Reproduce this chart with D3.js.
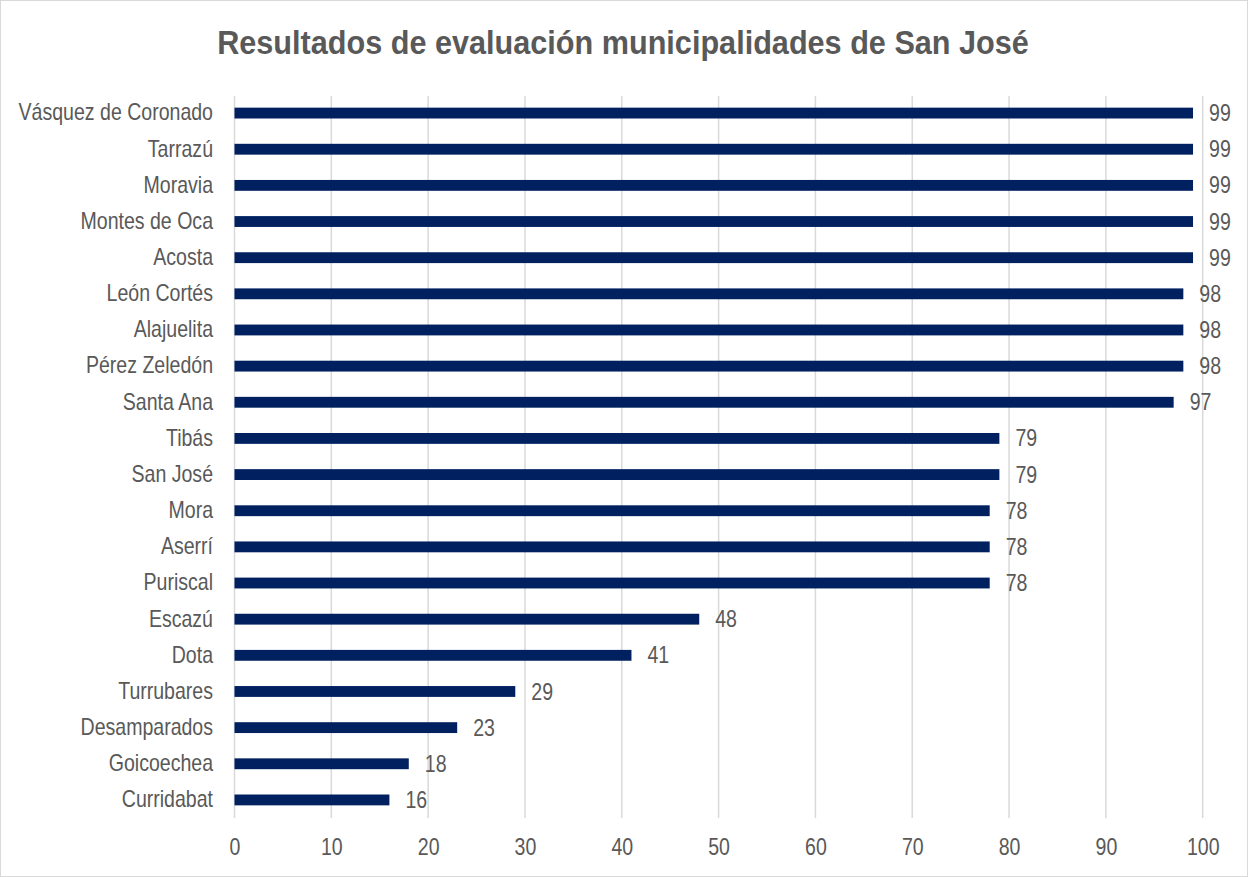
<!DOCTYPE html>
<html>
<head>
<meta charset="utf-8">
<script src="https://cdn.jsdelivr.net/npm/d3@7"></script>
<style>
  body { margin: 0; background: #fff; }
  svg { display: block; }
  .lbl { font-family: "Liberation Sans", Arial, sans-serif; fill: #595959; }
</style>
</head>
<body>
<script>
// municipalidades, de arriba hacia abajo
const municipios = ['Vásquez de Coronado', 'Tarrazú', 'Moravia', 'Montes de Oca', 'Acosta',
    'León Cortés', 'Alajuelita', 'Pérez Zeledón', 'Santa Ana', 'Tibás', 'San José', 'Mora',
    'Aserrí', 'Puriscal', 'Escazú', 'Dota', 'Turrubares', 'Desamparados', 'Goicoechea', 'Curridabat']
const puntajes = [99, 99, 99, 99, 99, 98, 98, 98, 97, 79, 79, 78, 78, 78, 48, 41, 29, 23, 18, 16]
const ticks = [0, 10, 20, 30, 40, 50, 60, 70, 80, 90, 100]

const width = 1248, height = 877
var margin = {top: 95, right: 45, bottom: 59, left: 234.5}
// no narrow font installed, so squeeze the text sideways
const narrow = 'scale(0.85,1)'

var svg = d3.select('body').append('svg')
    .attr('width', width)
    .attr('height', height)

svg.append('rect')
    .attr('x', 0.5).attr('y', 0.5)
    .attr('width', width - 1).attr('height', height - 1)
    .attr('fill', '#fff')
    .attr('stroke', '#d9d9d9')

svg.append('text')
    .attr('class', 'lbl')
    .attr('transform', 'translate(623,54) scale(0.928,1)')
    .attr('text-anchor', 'middle')
    .style('font-weight', 'bold')
    .style('font-size', '33px')
    .text('Resultados de evaluación municipalidades de San José')

var x = d3.scaleLinear()
    .domain([0, 100])
    .range([margin.left, 1202.7])

var y = d3.scaleBand()
    .domain(municipios)
    .range([margin.top, height - margin.bottom])
    .paddingInner(0.7)
    .paddingOuter(0.35)

// grid
svg.append('g')
    .selectAll('line')
    .data(ticks).enter()
    .append('line')
    .attr('x1', d => x(d)).attr('x2', d => x(d))
    .attr('y1', 96).attr('y2', 818)
    .attr('stroke', '#d9d9d9')
    .attr('stroke-width', 1.5)

// x axis labels
var xAxis = svg.append('g')
    .attr('transform', 'translate(0,839)')
    .call(d3.axisBottom(x).tickValues(ticks).tickSize(0).tickPadding(0))
xAxis.select('.domain').remove()
xAxis.selectAll('text')
    .attr('class', 'lbl')
    .attr('dy', '0.71em')
    .attr('transform', narrow)
    .style('font-size', '23px')

// y axis labels
var yAxis = svg.append('g')
    .attr('transform', 'translate(213,0)')
    .call(d3.axisLeft(y).tickSize(0).tickPadding(0))
yAxis.select('.domain').remove()
yAxis.selectAll('text')
    .attr('class', 'lbl')
    .attr('transform', narrow)
    .style('font-size', '23px')

// bars
svg.append('g')
    .selectAll('rect')
    .data(municipios).enter()
    .append('rect')
    .attr('x', x(0))
    .attr('y', d => y(d))
    .attr('width', (d, i) => x(puntajes[i]) - x(0))
    .attr('height', y.bandwidth())
    .attr('fill', '#002060')

// value labels
svg.append('g')
    .selectAll('text')
    .data(municipios).enter()
    .append('text')
    .attr('class', 'lbl')
    .attr('transform', (d, i) => `translate(${x(puntajes[i]) + 16},${y(d) + y.bandwidth() / 2}) ${narrow}`)
    .attr('dy', '0.35em')
    .style('font-size', '23px')
    .text((d, i) => puntajes[i])
</script>
</body>
</html>
